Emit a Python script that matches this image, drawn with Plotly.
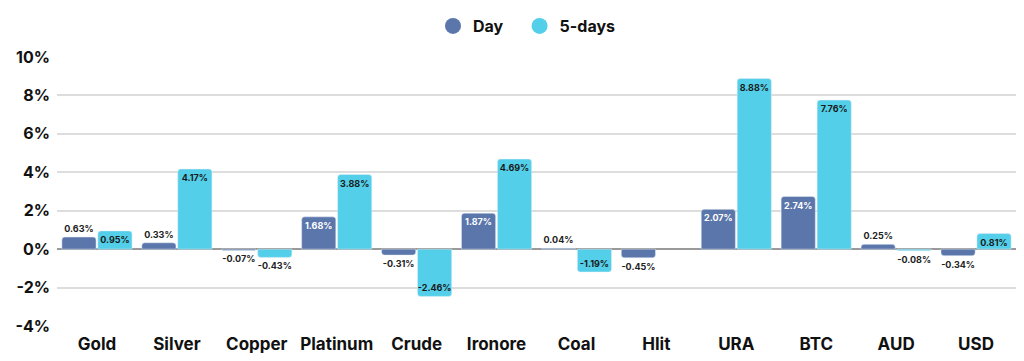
import plotly.graph_objects as go

categories = ["Gold", "Silver", "Copper", "Platinum", "Crude", "Ironore",
              "Coal", "Hlit", "URA", "BTC", "AUD", "USD"]
day_values = [0.63, 0.33, -0.07, 1.68, -0.31, 1.87, 0.04, -0.45, 2.07, 2.74, 0.25, -0.34]
five_day_values = [0.95, 4.17, -0.43, 3.88, -2.46, 4.69, -1.19, None, 8.88, 7.76, -0.08, 0.81]
y_ticks = [-4, -2, 0, 2, 4, 6, 8, 10]
y_tick_labels = ["-4%", "-2%", "0%", "2%", "4%", "6%", "8%", "10%"]

DAY_COLOR = "#5b76ab"
FIVE_COLOR = "#53cfe9"
FONT = "Inter"

W, H = 1008, 345  # page body has an 8px margin


def positions(vals, thresh):
    out = []
    for v in vals:
        if v is None:
            out.append("none")
        elif abs(v) >= thresh:
            out.append("inside")
        else:
            out.append("outside")
    return out


def labels(vals):
    return ["" if v is None else f"{v:.2f}%" for v in vals]


fig = go.Figure()
fig.add_trace(go.Bar(
    x=categories, y=day_values, name="Day", marker_color=DAY_COLOR,
    marker_cornerradius=3,
    text=labels(day_values), textposition=positions(day_values, 1.0),
    insidetextanchor="end", textangle=0, constraintext="none",
    insidetextfont=dict(color="white", size=9, family=FONT, weight=700),
    outsidetextfont=dict(color="#222222", size=9, family=FONT, weight=700),
    cliponaxis=False, showlegend=False,
))
fig.add_trace(go.Bar(
    x=categories, y=five_day_values, name="5-days", marker_color=FIVE_COLOR,
    marker_cornerradius=3,
    text=labels(five_day_values), textposition=positions(five_day_values, 0.7),
    insidetextanchor="end", textangle=0, constraintext="none",
    insidetextfont=dict(color="#1a1a1a", size=9, family=FONT, weight=700),
    outsidetextfont=dict(color="#222222", size=9, family=FONT, weight=700),
    cliponaxis=False, showlegend=False,
))
# legend entries with round markers
legend_names = ["Day\u00a0\u00a0\u00a0", "5-days"]
for name, color in zip(legend_names, [DAY_COLOR, FIVE_COLOR]):
    fig.add_trace(go.Scatter(x=[None], y=[None], mode="markers", name=name,
                             marker=dict(color=color, size=16, symbol="circle")))

fig.update_layout(
    width=W, height=H,
    margin=dict(l=49, r=0, t=49, b=27, autoexpand=False),
    paper_bgcolor="white", plot_bgcolor="white",
    barmode="group", bargap=0.1, bargroupgap=0.05,
    font=dict(family=FONT, color="#111111"),
    legend=dict(orientation="h", xref="container", x=425 / W, xanchor="left",
                yref="container", y=1 - 18 / H, yanchor="middle",
                font=dict(size=16, family=FONT, weight=700),
                itemsizing="trace", traceorder="normal"),
    xaxis=dict(showgrid=False, showline=False, zeroline=False, automargin=False,
               range=[-0.5, 11.5],
               tickfont=dict(size=17, family=FONT, weight=700, color="#111111"),
               ticks="", ticklabelstandoff=6),
    yaxis=dict(range=[-4, 10], tickvals=y_ticks, ticktext=y_tick_labels,
               automargin=False,
               showgrid=True, gridcolor="#dddddd", gridwidth=1.5,
               zeroline=True, zerolinecolor="#9a9a9a", zerolinewidth=1.5,
               tickfont=dict(size=16, family=FONT, weight=700, color="#111111"),
               ticks="", ticklabelstandoff=6),
)

fig.write_html("out.html")
